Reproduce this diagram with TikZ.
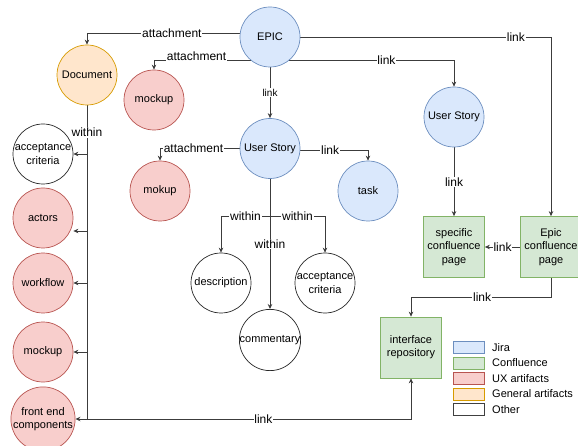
\documentclass[tikz,border=0pt]{standalone}
\usepackage{fontspec}
\setmainfont{Liberation Sans}
\usetikzlibrary{arrows.meta,calc,backgrounds}

\definecolor{jiraF}{HTML}{DAE8FC}\definecolor{jiraD}{HTML}{6C8EBF}
\definecolor{confF}{HTML}{D5E8D4}\definecolor{confD}{HTML}{82B366}
\definecolor{uxF}{HTML}{F8CECC}\definecolor{uxD}{HTML}{B85450}
\definecolor{genF}{HTML}{FFE6CC}\definecolor{genD}{HTML}{D79B00}
\definecolor{linecol}{HTML}{3C3C3C}

\tikzset{
  circ/.style={circle, draw, minimum size=60pt, inner sep=0pt, align=center,
    font=\fontsize{11}{13.3}\selectfont, line width=0.7pt},
  jira/.style={circ, fill=jiraF, draw=jiraD},
  ux/.style={circ, fill=uxF, draw=uxD},
  gen/.style={circ, fill=genF, draw=genD},
  other/.style={circ, fill=white, draw=black!85},
  pagebox/.style={rectangle, draw=confD, fill=confF, minimum width=61pt,
    minimum height=61pt, inner sep=0pt, align=center,
    font=\fontsize{11}{13.3}\selectfont, line width=0.7pt},
  conn/.style={draw=linecol, line width=0.8pt, -{Stealth[length=5pt,width=4.5pt]}},
  plainline/.style={draw=linecol, line width=0.8pt},
  lbl/.style={fill=white, inner sep=0.8pt, text=black,
    font=\fontsize{12}{14}\selectfont},
  lblsm/.style={lbl, font=\fontsize{10}{12}\selectfont},
  legendbox/.style={rectangle, minimum width=31pt, minimum height=12pt,
    inner sep=0pt, line width=0.7pt},
  legendtext/.style={anchor=west, inner sep=0pt, font=\fontsize{11}{13}\selectfont}
}

\begin{document}
\begin{tikzpicture}[x=1pt,y=-1pt]
\useasboundingbox (0,0) rectangle (578,446);

% Jira items
\node[jira] (epic) at (270,37) {EPIC};
\node[jira] (us1) at (270,148.5) {User Story};
\node[jira] (us2) at (454,117) {User Story};
\node[jira] (task) at (368,191) {task};

% general artifact
\node[gen] (doc) at (87,75) {Document};

% UX artifacts
\node[ux] (mock1) at (154,100) {mockup};
\node[ux] (mock2) at (160,191) {mokup};
\node[ux] (actors) at (43,218) {actors};
\node[ux] (wf) at (43,283) {workflow};
\node[ux] (mock3) at (43,352) {mockup};
\node[ux] (fec) at (43,419) {front end\\components};

% other
\node[other] (acc1) at (43,154) {acceptance\\criteria};
\node[other] (desc) at (221,283) {description};
\node[other] (comm) at (270,340) {commentary};
\node[other] (acc2) at (325,283) {acceptance\\criteria};

% Confluence pages
\node[pagebox] (scp) at (454,247) {specific\\confluence\\page};
\node[pagebox] (ecp) at (551,247) {Epic\\confluence\\page};
\node[pagebox] (ir) at (411,347.5) {interface\\repository};

% helper points
\coordinate (split) at ($(us1.south)+(0,37.5)$);
\coordinate (actTip) at ($(actors.east)+(0,13)$);

\begin{scope}[on background layer]
  % from the epic
  \draw[conn] ($(epic.west)+(0,-4)$) -| node[lbl,pos=0.222]{attachment} (doc.north);
  \draw[conn] ($(epic.center)+(-19.3,23)$) -| node[lbl,pos=0.28,yshift=3.5pt]{attachment} (mock1.north);
  \draw[conn] ($(epic.center)+(19.3,23)$) -| node[lbl,pos=0.295]{link} (us2.north);
  \draw[conn] (epic.east) -| node[lbl,pos=0.43]{link} (ecp.north);
  \draw[conn] (epic.south) -- node[lblsm]{link} (us1.north);

  % Confluence links
  \draw[conn] (us2.south) -- node[lbl]{link} (scp.north);
  \draw[conn] (ecp.west) -- node[lbl]{link} (scp.east);
  \draw[conn] (ecp.south) -- ++(0,19.5) -| node[lbl,pos=0.246]{link} (ir.north);
  \draw[draw=linecol, line width=0.8pt, {Stealth[length=5pt,width=4.5pt]}-{Stealth[length=5pt,width=4.5pt]}]
    (fec.east) -| node[lbl,pos=0.28]{link} (ir.south);

  % document contents
  \draw[plainline] (doc.south) -- node[lbl,pos=0.086]{within} (doc.south |- fec.east);
  \draw[conn] (doc.south |- acc1.east) -- (acc1.east);
  \draw[conn] (doc.south |- actTip) -- (actTip);
  \draw[conn] (doc.south |- wf.east) -- (wf.east);
  \draw[conn] (doc.south |- mock3.east) -- (mock3.east);

  % user story contents
  \draw[conn] (us1.west) -| node[lbl,pos=0.29]{attachment} (mock2.north);
  \draw[conn] ($(us1.east)+(0,1.5)$) -| node[lbl,pos=0.22]{link} (task.north);
  \draw[conn] (us1.south) -- node[lbl,pos=0.5]{within} (comm.north);
  \draw[conn] (split) -| node[lbl,pos=0.25]{within} (desc.north);
  \draw[conn] (split) -| node[lbl,pos=0.25]{within} (acc2.north);
\end{scope}

% legend
\node[legendbox, fill=jiraF, draw=jiraD] (kjira) at (468.5,347.5) {};
\node[legendbox, fill=confF, draw=confD] (kconf) at (468.5,363) {};
\node[legendbox, fill=uxF, draw=uxD] (kux) at (468.5,378.5) {};
\node[legendbox, fill=genF, draw=genD] (kgen) at (468.5,394) {};
\node[legendbox, fill=white, draw=black!75] (koth) at (468.5,409.5) {};
\node[legendtext] (tjira) at (492,347.5) {Jira};
\node[legendtext] (tconf) at (492,363) {Confluence};
\node[legendtext] (tux) at (492,378.5) {UX artifacts};
\node[legendtext] (tgen) at (492,394) {General artifacts};
\node[legendtext] (toth) at (492,409.5) {Other};
\end{tikzpicture}
\end{document}
